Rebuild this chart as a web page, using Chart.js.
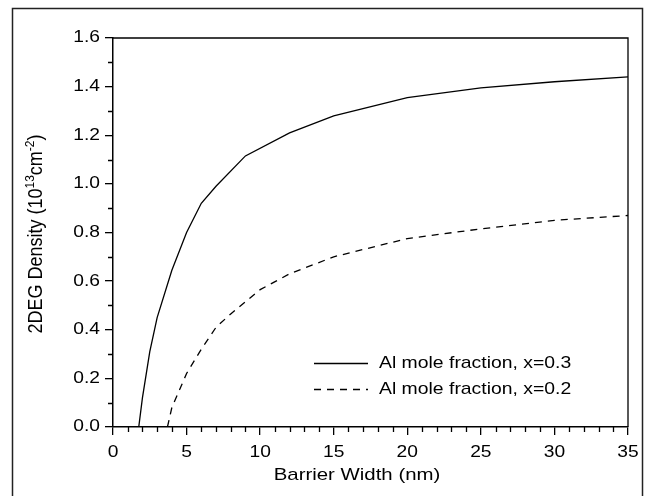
<!DOCTYPE html>
<html>
<head>
<meta charset="utf-8">
<script src="https://cdn.jsdelivr.net/npm/chart.js@4.4.0/dist/chart.umd.min.js"></script>
<style>
  html, body { margin: 0; padding: 0; background: #fff; }
  #wrap { width: 649px; height: 496px; position: relative; }
</style>
</head>
<body>
<div id="wrap"><canvas id="chart" width="649" height="496"></canvas></div>
<script>
// ── data ──
const X_03 = [1.75, 2, 2.5, 3, 4, 5, 6, 7, 9, 12, 15, 20, 25, 30, 35];
const Y_03 = [0, 0.12, 0.31, 0.45, 0.645, 0.80, 0.92, 0.99, 1.115, 1.21, 1.28, 1.355, 1.395, 1.42, 1.44];
const X_02 = [3.7, 4, 5, 6, 7, 8, 10, 12, 15, 20, 25, 30, 35];
const Y_02 = [0, 0.08, 0.22, 0.32, 0.41, 0.465, 0.565, 0.63, 0.70, 0.775, 0.815, 0.85, 0.87];
const LABELS = ['Al mole fraction, x=0.3', 'Al mole fraction, x=0.2'];
const X_TITLE = 'Barrier Width (nm)';

const FONT = 'Arial, "Liberation Sans", sans-serif';
const SX = 1.2; // the source figure's text is a bit wider than plain Arial
const toPts = (xs, ys) => xs.map((x, i) => ({ x, y: ys[i] }));

// draw text stretched horizontally
function wideText(ctx, txt, x, y, size, align, sx) {
  ctx.save();
  ctx.font = size + 'px ' + FONT;
  ctx.textAlign = align;
  ctx.textBaseline = 'middle';
  ctx.translate(x, y);
  ctx.scale(sx, 1);
  ctx.fillText(txt, 0, 0);
  ctx.restore();
}

// ── frame, minor ticks, tick labels, titles, legend ──
const decor = {
  id: 'decor',
  afterDraw(chart) {
    const { ctx, chartArea: a, scales: { x, y } } = chart;
    ctx.save();
    // outer frame
    ctx.strokeStyle = '#222';
    ctx.lineWidth = 1.5;
    ctx.strokeRect(12.5, 8.5, 630, 495);
    // top + right of plot box
    ctx.strokeStyle = '#000';
    ctx.lineWidth = 1.3;
    ctx.beginPath();
    ctx.moveTo(a.left, a.top); ctx.lineTo(a.right, a.top); ctx.lineTo(a.right, a.bottom);
    ctx.stroke();
    // minor ticks
    ctx.beginPath();
    for (let v = 0; v <= 35; v++) {
      if (v % 5 === 0) continue;
      const px = Math.round(x.getPixelForValue(v)) + 0.5;
      ctx.moveTo(px, a.bottom); ctx.lineTo(px, a.bottom + 5);
    }
    for (let i = 1; i <= 16; i += 2) {
      const py = Math.round(y.getPixelForValue(i / 10)) + 0.5;
      ctx.moveTo(a.left, py); ctx.lineTo(a.left - 5, py);
    }
    ctx.stroke();
    ctx.fillStyle = '#000';
    // tick labels
    x.ticks.forEach(t => wideText(ctx, String(t.value), x.getPixelForValue(t.value), 453, 16, 'center', SX));
    y.ticks.forEach(t => wideText(ctx, t.value.toFixed(1), 100, y.getPixelForValue(t.value), 16, 'right', SX));
    // x title
    wideText(ctx, X_TITLE, 357, 475, 17, 'center', SX);
    // y title with superscripts, rotated
    const parts = [
      ['2DEG Density (10', 18, 0], ['13', 12, -7], ['cm', 18, 0], ['-2', 12, -7], [')', 18, 0]
    ];
    let total = 0;
    parts.forEach(p => { ctx.font = p[1] + 'px ' + FONT; total += ctx.measureText(p[0]).width; });
    ctx.save();
    ctx.translate(42, 234);
    ctx.rotate(-Math.PI / 2);
    ctx.scale(1, 1.08);
    ctx.textAlign = 'left';
    ctx.textBaseline = 'alphabetic';
    let cx = -total / 2;
    parts.forEach(p => {
      ctx.font = p[1] + 'px ' + FONT;
      ctx.fillText(p[0], cx, p[2]);
      cx += ctx.measureText(p[0]).width;
    });
    ctx.restore();
    // legend
    const rows = [363, 389];
    chart.data.datasets.forEach((ds, i) => {
      ctx.strokeStyle = ds.borderColor;
      ctx.lineWidth = ds.borderWidth;
      ctx.setLineDash(ds.borderDash || []);
      ctx.beginPath();
      ctx.moveTo(314, rows[i] + 0.5); ctx.lineTo(368, rows[i] + 0.5);
      ctx.stroke();
      ctx.setLineDash([]);
      wideText(ctx, ds.label, 379, rows[i], 17, 'left', 1.14);
    });
    ctx.restore();
  }
};

new Chart(document.getElementById('chart'), {
  type: 'scatter',
  data: {
    datasets: [
      {
        label: LABELS[0],
        data: toPts(X_03, Y_03),
        showLine: true,
        borderColor: '#000',
        borderWidth: 1.3,
        pointRadius: 0,
        tension: 0
      },
      {
        label: LABELS[1],
        data: toPts(X_02, Y_02),
        showLine: true,
        borderColor: '#000',
        borderWidth: 1.3,
        borderDash: [7, 6],
        pointRadius: 0,
        tension: 0
      }
    ]
  },
  options: {
    responsive: false,
    animation: false,
    layout: { padding: { left: 0, right: 21, top: 38, bottom: 0 } },
    plugins: { legend: { display: false }, tooltip: { enabled: false } },
    scales: {
      x: {
        type: 'linear', min: 0, max: 35,
        border: { color: '#000', width: 1.5 },
        grid: { drawOnChartArea: false, tickLength: 8, color: '#000', lineWidth: 1.3 },
        ticks: { stepSize: 5, display: false },
        afterFit(s) { s.height = 69; }
      },
      y: {
        type: 'linear', min: 0, max: 1.6,
        border: { color: '#000', width: 1.5 },
        grid: { drawOnChartArea: false, tickLength: 8, color: '#000', lineWidth: 1.3 },
        ticks: { stepSize: 0.2, display: false },
        afterFit(s) { s.width = 113; }
      }
    }
  },
  plugins: [decor]
});
</script>
</body>
</html>
